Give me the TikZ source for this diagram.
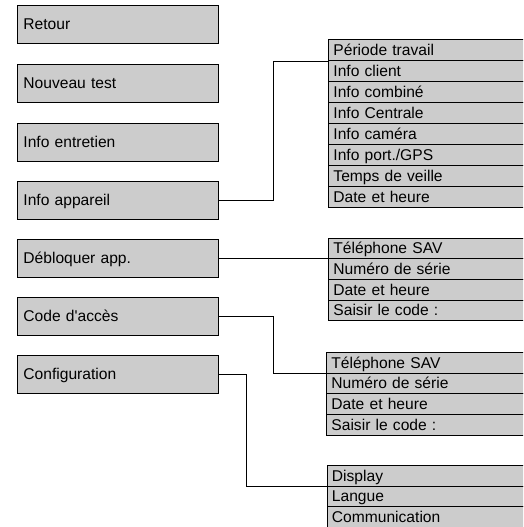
\documentclass[tikz,border=0pt]{standalone}
\usepackage{fontspec}
\setmainfont{Liberation Sans}
\begin{document}
\begin{tikzpicture}[x=1pt,y=-1pt,
  every node/.style={font=\fontsize{15.6}{18}\selectfont},
  menubox/.style={draw=black,line width=0.9pt,fill=boxgray,anchor=north west,
    minimum height=38pt,text width=189pt,inner xsep=6pt,inner ysep=0pt,
    text height=11pt,text depth=0pt,align=left},
  rowbox/.style={draw=black,line width=0.9pt,fill=boxgray,anchor=north west,
    minimum height=#1,text width=192pt,inner xsep=5pt,inner ysep=0pt,
    text height=11pt,text depth=0pt,align=left},
  link/.style={draw=black,line width=0.8pt}]
\definecolor{boxgray}{RGB}{204,204,204}
\clip (0,0) rectangle (523,527);
\fill[white] (0,0) rectangle (523,527);
% main menu
\node[menubox] (L1) at (17,5)   {Retour};
\node[menubox] (L2) at (17,64)  {Nouveau test};
\node[menubox] (L3) at (17,123) {Info entretien};
\node[menubox] (L4) at (17,181) {Info appareil};
\node[menubox] (L5) at (17,239) {Débloquer app.};
\node[menubox] (L6) at (17,297) {Code d\textquotesingle accès};
\node[menubox] (L7) at (17,355) {Configuration};
% submenu Info appareil
\node[rowbox=20.9pt] (A1) at (328,39.3)  {Période travail};
\node[rowbox=20.9pt] (A2) at (328,60.2)  {Info client};
\node[rowbox=20.9pt] (A3) at (328,81.1)  {Info combiné};
\node[rowbox=20.9pt] (A4) at (328,102.0) {Info Centrale};
\node[rowbox=20.9pt] (A5) at (328,122.9) {Info caméra};
\node[rowbox=20.9pt] (A6) at (328,143.8) {Info port./GPS};
\node[rowbox=20.9pt] (A7) at (328,164.7) {Temps de veille};
\node[rowbox=20.9pt] (A8) at (328,185.6) {Date et heure};
% submenu Débloquer app.
\node[rowbox=20.7pt] (B1) at (328,237.5) {Téléphone SAV};
\node[rowbox=20.7pt] (B2) at (328,258.2) {Numéro de série};
\node[rowbox=20.7pt] (B3) at (328,278.9) {Date et heure};
\node[rowbox=20.7pt] (B4) at (328,299.6) {Saisir le code :};
% submenu Code d'accès
\node[rowbox=20.7pt] (C1) at (326,351.8) {Téléphone SAV};
\node[rowbox=20.7pt] (C2) at (326,372.5) {Numéro de série};
\node[rowbox=20.7pt] (C3) at (326,393.2) {Date et heure};
\node[rowbox=20.7pt] (C4) at (326,413.9) {Saisir le code :};
% submenu Configuration
\node[rowbox=20.6pt] (D1) at (326.5,465)   {Display};
\node[rowbox=20.6pt] (D2) at (326.5,485.6) {Langue};
\node[rowbox=20.6pt] (D3) at (326.5,506.2) {Communication};
% connectors
\draw[link] (L4.east) -- ++(54.7,0) |- (A1.south west);
\draw[link] (L5.east) -- (L5.east -| B1.west);
\draw[link] (L6.east) -- ++(54.7,0) |- (C1.south west);
\draw[link] (L7.east) -- ++(27,0) |- (D1.south west);
\end{tikzpicture}
\end{document}
